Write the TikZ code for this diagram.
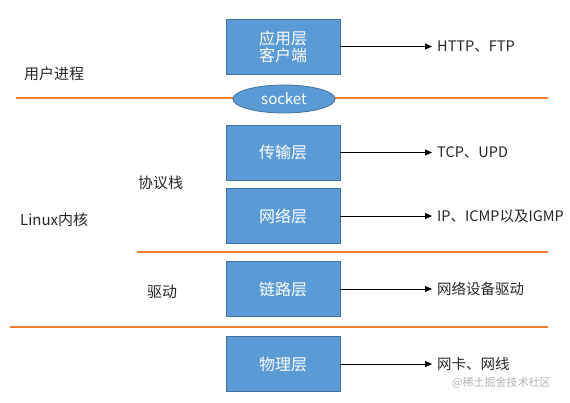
\documentclass[tikz,border=0pt]{standalone}
\usepackage{fontspec}
\setmainfont{Noto Sans CJK SC}
\usetikzlibrary{arrows.meta,shapes.geometric}
\definecolor{boxblue}{HTML}{5B9BD5}
\definecolor{boxedge}{HTML}{41719C}
\definecolor{lineorange}{HTML}{ED7D31}
\definecolor{txtgray}{HTML}{262626}
\begin{document}
\begin{tikzpicture}[x=1pt,y=-1pt,
  layerbox/.style={draw=boxedge,fill=boxblue,line width=0.8pt,minimum width=114pt,minimum height=55pt,inner sep=0pt,text=white,font=\fontsize{16}{19}\selectfont,align=center},
  sockbox/.style={ellipse,draw=boxedge,fill=boxblue,line width=0.8pt,minimum width=102pt,minimum height=28pt,inner sep=0pt,text=white,font=\fontsize{15}{18}\selectfont},
  desc/.style={anchor=west,inner sep=5pt,text=txtgray,font=\fontsize{14.5}{17}\selectfont},
  side/.style={text=txtgray,font=\fontsize{15}{18}\selectfont,inner sep=0pt},
  sep/.style={draw=lineorange,line width=2.6pt},
  conn/.style={draw=black,line width=0.9pt,-{Triangle[length=7pt,width=6pt]}}]
\useasboundingbox (0,0) rectangle (570,402);
% separator lines
\coordinate (l1a) at (16,98);  \coordinate (l1b) at (548,98);
\coordinate (l2a) at (137,252); \coordinate (l2b) at (548,252);
\coordinate (l3a) at (10,327);  \coordinate (l3b) at (548,327);
\path[sep] (l1a) -- (l1b);
\path[sep] (l2a) -- (l2b);
\path[sep] (l3a) -- (l3b);
% layer boxes
\node[layerbox] (app) at (283,46.5) {应用层\\[-2pt]客户端};
\node[sockbox] (sock) at (284,99) {socket};
\node[layerbox] (trans) at (283,152.5) {传输层};
\node[layerbox] (net) at (283,216) {网络层};
\node[layerbox] (link) at (283,289) {链路层};
\node[layerbox] (phys) at (283,364) {物理层};
% descriptions
\node[desc] (dapp) at (432,46.5) {HTTP、FTP};
\node[desc] (dtrans) at (432,152.5) {TCP、UPD};
\node[desc] (dnet) at (432,216) {IP、ICMP以及IGMP};
\node[desc] (dlink) at (432,289) {网络设备驱动};
\node[desc] (dphys) at (432,364) {网卡、网线};
\path[conn] (app.east) -- (dapp.west);
\path[conn] (trans.east) -- (dtrans.west);
\path[conn] (net.east) -- (dnet.west);
\path[conn] (link.east) -- (dlink.west);
\path[conn] (phys.east) -- (dphys.west);
% side labels
\node[side,anchor=west] (user) at (24,74) {用户进程};
\node[side,anchor=west] (stack) at (138,183) {协议栈};
\node[side,anchor=west] (kernel) at (20,220) {Linux内核};
\node[side,anchor=west] (drv) at (147,292) {驱动};
% watermark
\node[anchor=west,inner sep=0pt,text=black!30,font=\fontsize{11}{13}\selectfont] (wm) at (452,383) {@稀土掘金技术社区};
\end{tikzpicture}
\end{document}
